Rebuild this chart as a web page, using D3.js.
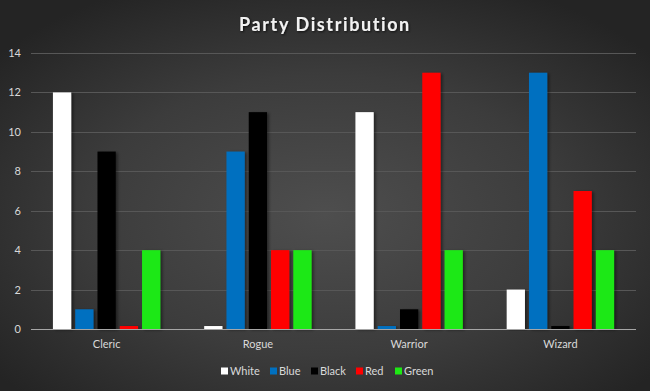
<!DOCTYPE html>
<html>
  <head>
    <meta charset="utf-8" />
    <title>Party Distribution</title>
    <script src="https://d3js.org/d3.v7.min.js" charset="utf-8"></script>
    <style>
      body { margin: 0; background: #2a2a2a; }
      text { font-family: Lato, "Open Sans", sans-serif; }
    </style>
  </head>
  <body>
    <svg id="canvas" width="650" height="391"></svg>
    <script>
      // data
      var classes = ["Cleric", "Rogue", "Warrior", "Wizard"];
      var series = ["White", "Blue", "Black", "Red", "Green"];
      var colors = ["#ffffff", "#0070c0", "#000000", "#ff0000", "#1ee814"];
      var white = [12, 0.15, 11, 2];
      var blue = [1, 9, 0.15, 13];
      var black = [9, 11, 1, 0.15];
      var red = [0.15, 4, 13, 7];
      var green = [4, 4, 4, 4];
      var yTicks = [0, 2, 4, 6, 8, 10, 12, 14];

      var values = [white, blue, black, red, green];

      var width = 650, height = 391;
      var canvas = d3.select("#canvas");
      var defs = canvas.append("defs");

      // background gradient
      var grad = defs.append("radialGradient")
        .attr("id", "bg")
        .attr("cx", "50%").attr("cy", "55%").attr("r", "65%");
      grad.append("stop").attr("offset", "0%").attr("stop-color", "#4e4e4e");
      grad.append("stop").attr("offset", "55%").attr("stop-color", "#3c3c3c");
      grad.append("stop").attr("offset", "100%").attr("stop-color", "#242424");

      var shadow = defs.append("filter").attr("id", "shadow")
        .attr("x", "-20%").attr("y", "-5%").attr("width", "150%").attr("height", "110%");
      shadow.append("feDropShadow")
        .attr("dx", 2).attr("dy", 1).attr("stdDeviation", 1.5)
        .attr("flood-color", "#000").attr("flood-opacity", 0.45);

      var tshadow = defs.append("filter").attr("id", "tshadow");
      tshadow.append("feDropShadow")
        .attr("dx", 1).attr("dy", 1).attr("stdDeviation", 1)
        .attr("flood-color", "#000").attr("flood-opacity", 0.7);

      canvas.append("rect")
        .attr("width", width).attr("height", height)
        .attr("fill", "url(#bg)");

      // title
      canvas.append("text")
        .attr("x", 325).attr("y", 31)
        .attr("text-anchor", "middle")
        .attr("fill", "#f2f2f2")
        .style("font-size", "18px")
        .style("font-weight", "bold")
        .style("letter-spacing", "1.6px")
        .attr("filter", "url(#tshadow)")
        .text("Party Distribution");

      // scales
      var x = d3.scaleBand().domain(classes).range([31, 636])
        .paddingInner(0.29).paddingOuter(0.145);
      var xSub = d3.scaleBand().domain(series).range([0, x.bandwidth()])
        .paddingInner(0.18);
      var y = d3.scaleLinear().domain([0, 14]).range([329, 53]);

      // grid
      canvas.append("g")
        .selectAll("line")
        .data(yTicks.slice(1))
        .enter()
        .append("line")
        .attr("x1", 31).attr("x2", 636)
        .attr("y1", function (d) { return Math.round(y(d)) + 0.5; })
        .attr("y2", function (d) { return Math.round(y(d)) + 0.5; })
        .attr("stroke", "#575757")
        .attr("stroke-width", 1);

      // y labels
      canvas.append("g")
        .selectAll("text")
        .data(yTicks)
        .enter()
        .append("text")
        .attr("x", 21)
        .attr("y", function (d) { return y(d) + 4; })
        .attr("text-anchor", "end")
        .attr("fill", "#d9d9d9")
        .style("font-size", "11px")
        .text(function (d) { return d; });

      // bars
      var groups = canvas.append("g")
        .selectAll("g")
        .data(series)
        .enter()
        .append("g")
        .attr("fill", function (d, i) { return colors[i]; });

      groups.selectAll("rect")
        .data(function (s, i) {
          return classes.map(function (c, j) {
            return { cls: c, s: s, v: values[i][j] };
          });
        })
        .enter()
        .append("rect")
        .attr("x", function (d) { return x(d.cls) + xSub(d.s); })
        .attr("y", function (d) { return y(d.v); })
        .attr("width", xSub.bandwidth())
        .attr("height", function (d) { return y(0) - y(d.v); })
        .attr("filter", "url(#shadow)");

      // x axis line
      canvas.append("line")
        .attr("x1", 31).attr("x2", 636)
        .attr("y1", 329.5).attr("y2", 329.5)
        .attr("stroke", "#a6a6a6");

      // category labels
      canvas.append("g")
        .selectAll("text")
        .data(classes)
        .enter()
        .append("text")
        .attr("x", function (d) { return x(d) + x.bandwidth() / 2; })
        .attr("y", 348)
        .attr("text-anchor", "middle")
        .attr("fill", "#d9d9d9")
        .style("font-size", "11px")
        .text(function (d) { return d; });

      // legend
      var legendX = [221, 270, 311, 356, 395];
      var legend = canvas.append("g")
        .selectAll("g")
        .data(series)
        .enter()
        .append("g")
        .attr("transform", function (d, i) { return "translate(" + legendX[i] + ",371)"; });
      legend.append("rect")
        .attr("x", 0).attr("y", -3.5)
        .attr("width", 7).attr("height", 7)
        .attr("fill", function (d, i) { return colors[i]; });
      legend.append("text")
        .attr("x", 9).attr("y", 4)
        .attr("fill", "#d9d9d9")
        .style("font-size", "11px")
        .text(function (d) { return d; });
    </script>
  </body>
</html>
